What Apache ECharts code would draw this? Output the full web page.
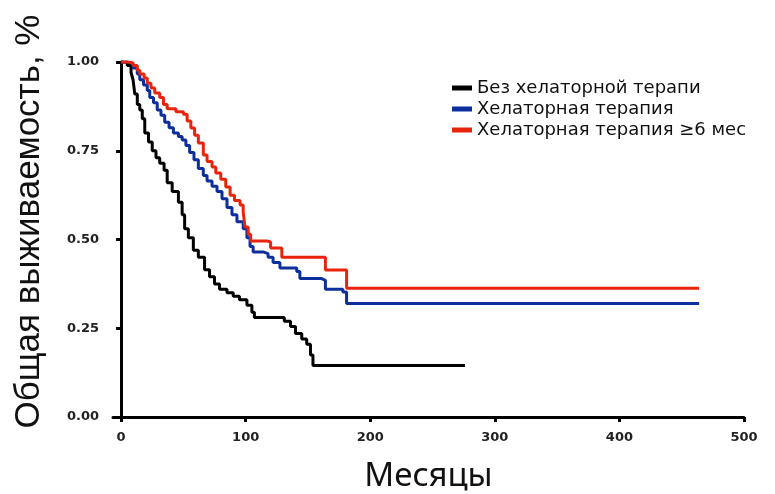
<!DOCTYPE html>
<html>
<head>
<meta charset="utf-8">
<script src="https://cdn.jsdelivr.net/npm/echarts@6/dist/echarts.min.js"></script>
<style>
	html, body { margin: 0; padding: 0; background: #fff; }
	#chart { width: 775px; height: 494px; }
</style>
</head>
<body>
<div id="chart"></div>
<script>
// ticks
var xTicks = [0, 100, 200, 300, 400, 500]
var yTicks = [0, 0.25, 0.5, 0.75, 1]

var seriesNames = ['Без хелаторной терапи', 'Хелаторная терапия', 'Хелаторная терапия ≥6 мес']

// Без хелаторной терапии
var noChelMonths = [0, 5, 8, 9.6, 11, 13, 15, 17, 19, 22, 25, 28, 31, 34.5, 37, 41, 46, 49, 51, 54, 58, 62, 67, 71, 75, 79, 85, 90, 95, 101, 105, 107, 131, 136, 140, 145, 149, 152, 154, 276]
var noChelSurv = [1.0, 0.99, 0.97, 0.95, 0.91, 0.88, 0.865, 0.84, 0.80, 0.775, 0.75, 0.73, 0.715, 0.695, 0.66, 0.635, 0.605, 0.57, 0.53, 0.505, 0.47, 0.45, 0.415, 0.395, 0.375, 0.36, 0.35, 0.34, 0.33, 0.315, 0.295, 0.28, 0.27, 0.255, 0.235, 0.22, 0.205, 0.175, 0.145, 0.145]

// Хелаторная терапия
var chelMonths = [0, 5, 9.6, 13, 15, 18, 21, 23, 26, 29, 32, 35, 38.5, 42, 46, 49, 52, 55, 58.5, 62, 66, 69, 73, 77, 81, 85, 89, 93, 98, 101, 103.5, 106, 114, 118, 122, 127.5, 141, 143.5, 161, 164, 178, 181, 464]
var chelSurv = [1.0, 0.995, 0.983, 0.966, 0.95, 0.935, 0.92, 0.90, 0.885, 0.865, 0.85, 0.83, 0.815, 0.80, 0.79, 0.78, 0.765, 0.745, 0.725, 0.70, 0.68, 0.665, 0.65, 0.635, 0.615, 0.59, 0.57, 0.55, 0.53, 0.505, 0.48, 0.465, 0.46, 0.45, 0.435, 0.42, 0.41, 0.39, 0.385, 0.36, 0.352, 0.32, 0.32]

// Хелаторная терапия >= 6 мес
var chel6Months = [0, 5.6, 9.6, 13, 15, 18.5, 21, 24, 27, 31, 34, 37, 44, 50, 53, 56, 59, 62, 66, 69, 73, 76, 80, 84, 87.5, 91, 95.5, 98, 99.5, 102, 104, 117, 120, 129, 164, 181, 464]
var chel6Surv = [1.0, 0.997, 0.99, 0.977, 0.966, 0.955, 0.94, 0.927, 0.913, 0.90, 0.88, 0.868, 0.86, 0.853, 0.834, 0.814, 0.794, 0.772, 0.738, 0.72, 0.704, 0.687, 0.67, 0.648, 0.625, 0.61, 0.597, 0.577, 0.535, 0.515, 0.496, 0.493, 0.476, 0.45, 0.414, 0.363, 0.363]

var colors = ['#000000', '#0d2f9e', '#e8250c']

function pairs(xs, ys) {
	var out = []
	for (var i = 0; i < xs.length; i++) out.push([xs[i], ys[i]])
	return out
}

var myChart = echarts.init(document.getElementById('chart'))

function kmSeries(name, xs, ys, color) {
	return {
		name: name,
		type: 'line',
		step: 'end',
		showSymbol: false,
		symbol: 'none',
		lineStyle: { color: color, width: 3 },
		itemStyle: { color: color },
		data: pairs(xs, ys)
	}
}

var option = {
	animation: false,
	color: colors,
	grid: { left: 113, right: 31, top: 62, bottom: 77, outerBoundsMode: 'none' },
	legend: {
		orient: 'vertical',
		left: 447,
		top: 74,
		itemWidth: 20,
		itemHeight: 5,
		itemGap: 3,
		icon: 'rect',
		textStyle: { fontFamily: 'DejaVu Sans', fontSize: 18, color: '#111' },
		data: seriesNames
	},
	xAxis: {
		type: 'value',
		min: -6.5,
		max: 500,
		name: 'Месяцы',
		nameLocation: 'middle',
		nameGap: 43,
		nameTextStyle: { fontFamily: 'Noto Sans', fontSize: 33, color: '#111' },
		splitLine: { show: false },
		axisLine: { show: true, lineStyle: { color: '#000', width: 3 } },
		axisTick: { show: true, customValues: xTicks, length: 5, lineStyle: { color: '#000', width: 3 } },
		axisLabel: {
			customValues: xTicks,
			fontFamily: 'DejaVu Sans',
			fontWeight: 'bold',
			fontSize: 13,
			color: '#222',
			margin: 14
		}
	},
	yAxis: {
		type: 'value',
		min: 0,
		max: 1,
		interval: 0.25,
		name: 'Общая выживаемость, %',
		nameLocation: 'middle',
		nameGap: 66,
		nameTextStyle: { fontFamily: 'Liberation Sans', fontSize: 35, color: '#111', padding: [0, 0, 0, 36] },
		splitLine: { show: false },
		axisLine: { show: true, lineStyle: { color: '#000', width: 3 } },
		axisTick: { show: true, length: 5, lineStyle: { color: '#000', width: 3 } },
		axisLabel: {
			fontFamily: 'DejaVu Sans',
			fontWeight: 'bold',
			fontSize: 13,
			color: '#222',
			margin: 14,
			formatter: function (v) { return v.toFixed(2) }
		}
	},
	series: [
		kmSeries(seriesNames[0], noChelMonths, noChelSurv, colors[0]),
		kmSeries(seriesNames[1], chelMonths, chelSurv, colors[1]),
		kmSeries(seriesNames[2], chel6Months, chel6Surv, colors[2])
	]
}
myChart.setOption(option)
</script>
</body>
</html>
